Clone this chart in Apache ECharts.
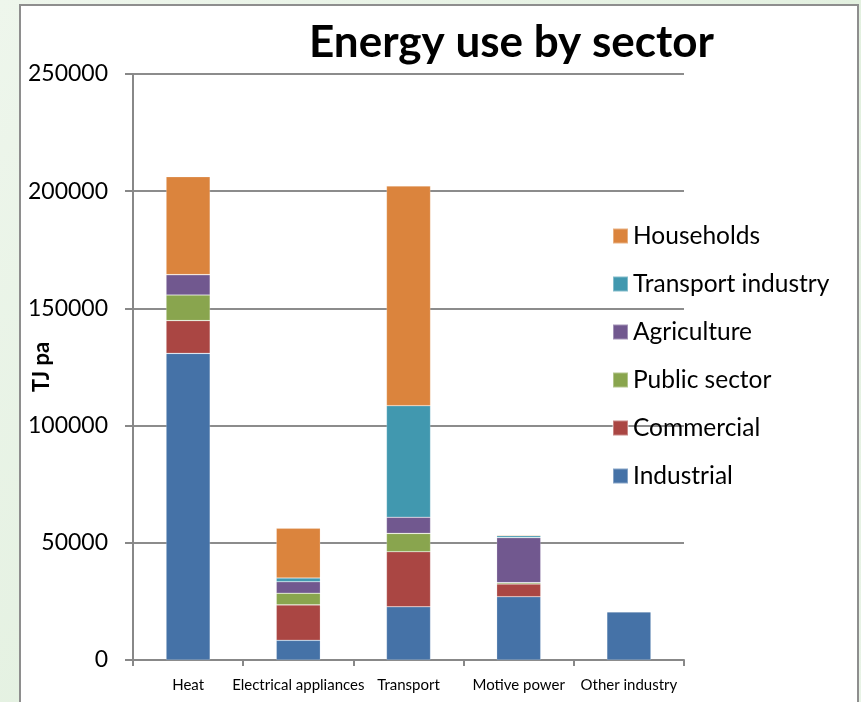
<!DOCTYPE html>
<html>
<head>
<meta charset="utf-8">
<script src="https://cdn.jsdelivr.net/npm/echarts@6/dist/echarts.min.js"></script>
<style>
  html, body { margin: 0; padding: 0; }
  body { width: 861px; height: 702px; overflow: hidden; position: relative;
         background: linear-gradient(135deg, #eef6ec 0%, #e2f0df 60%, #e8f3e6 100%); }
  #box { position: absolute; left: 19px; top: 4px; width: 836px; height: 720px;
         background: #fff; border: 2px solid #8e8e8e; }
  #chart { position: absolute; left: 0; top: 0; width: 861px; height: 702px; }
</style>
</head>
<body>
<div id="box"></div>
<div id="chart"></div>
<script>
const categories = ['Heat', 'Electrical appliances', 'Transport', 'Motive power', 'Other industry'];
const industrial        = [130800, 8400, 22700, 27000, 20600];
const commercial        = [14000, 15100, 23500, 5400, 0];
const publicSector      = [10900, 5000, 7800, 600, 0];
const agriculture       = [8700, 4900, 6900, 19200, 0];
const transportIndustry = [0, 1600, 47600, 800, 0];
const households        = [41800, 21200, 93700, 400, 0];
const legendOrder = ['Households', 'Transport industry', 'Agriculture', 'Public sector', 'Commercial', 'Industrial'];
const yTicks = { min: 0, max: 250000, interval: 50000 };

const FONT = 'Lato, "Open Sans", sans-serif';
const seriesDefs = [
  ['Industrial', industrial, '#4572a7'],
  ['Commercial', commercial, '#aa4643'],
  ['Public sector', publicSector, '#89a54e'],
  ['Agriculture', agriculture, '#71588f'],
  ['Transport industry', transportIndustry, '#4198af'],
  ['Households', households, '#db843d']
];

const chart = echarts.init(document.getElementById('chart'), null, { renderer: 'canvas' });
chart.setOption({
  backgroundColor: 'transparent',
  animation: false,
  title: {
    text: 'Energy use by sector',
    left: 304, top: 16,
    textStyle: { fontFamily: FONT, fontWeight: 'bold', fontSize: 44, color: '#000' }
  },
  legend: {
    orient: 'vertical',
    left: 607, top: 218,
    data: legendOrder,
    icon: 'rect',
    itemWidth: 15, itemHeight: 15,
    itemGap: 22,
    textStyle: { fontFamily: FONT, fontSize: 24.5, color: '#000', lineHeight: 26 }
  },
  grid: { left: 133, right: 177, top: 74, bottom: 42, containLabel: false, outerBoundsMode: 'none' },
  xAxis: {
    type: 'category',
    data: categories,
    axisLine: { lineStyle: { color: '#888', width: 2 } },
    axisTick: { show: true, length: 6, lineStyle: { color: '#888', width: 2 } },
    axisLabel: { fontFamily: FONT, fontSize: 15, color: '#000', margin: 18, interval: 0 }
  },
  yAxis: {
    type: 'value',
    min: yTicks.min, max: yTicks.max, interval: yTicks.interval,
    name: 'TJ pa',
    nameLocation: 'middle',
    nameRotate: 90,
    nameGap: 80,
    nameMoveOverlap: false,
    nameTextStyle: { fontFamily: FONT, fontWeight: 'bold', fontSize: 22, color: '#000' },
    axisLine: { show: true, lineStyle: { color: '#888', width: 2 } },
    axisTick: { show: true, length: 8, lineStyle: { color: '#888', width: 2 } },
    axisLabel: { fontFamily: FONT, fontSize: 23, color: '#000', margin: 25, formatter: v => String(v) },
    splitLine: { lineStyle: { color: '#8c8c8c', width: 2 } }
  },
  series: seriesDefs.map(([name, data, color]) => ({
    name, type: 'bar', stack: 'total', data,
    barWidth: '40%',
    itemStyle: { color, borderColor: 'rgba(255,255,255,0.35)', borderWidth: 0.6 }
  }))
});
</script>
</body>
</html>
